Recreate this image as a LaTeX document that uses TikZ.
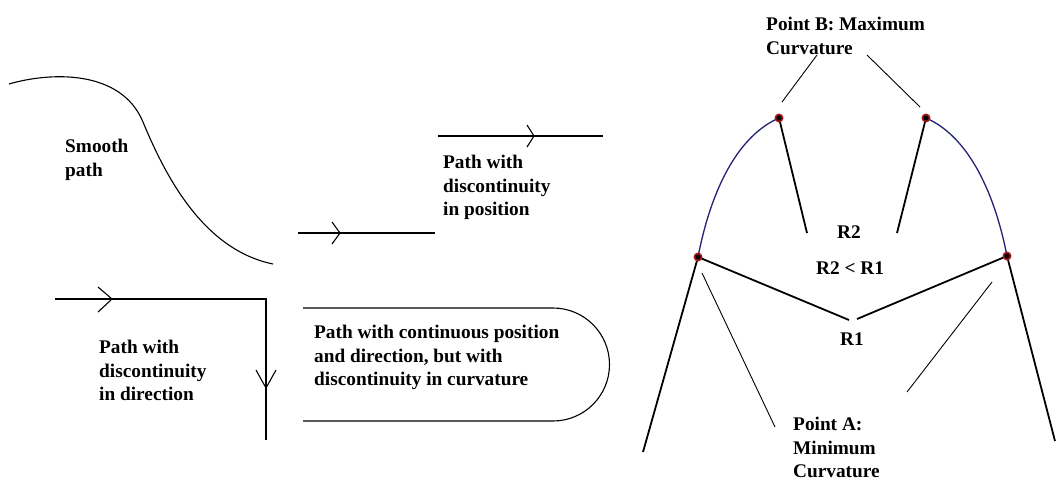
\documentclass[tikz,border=0pt]{standalone}
\usepackage{fontspec}
\setmainfont{Liberation Serif}
\usetikzlibrary{positioning}

\definecolor{arcblue}{RGB}{35,35,115}
\definecolor{dotred}{RGB}{165,25,25}

\begin{document}
\begin{tikzpicture}[
    x=1pt, y=-1pt,
    lbl/.style={anchor=north west, inner sep=0pt, align=left, font=\fontsize{19.3}{23.5}\selectfont\bfseries},
    mid/.style={inner sep=0pt, font=\fontsize{19.3}{23.5}\selectfont\bfseries},
    pathline/.style={line width=1.1pt},
    radline/.style={line width=1.8pt},
    leader/.style={line width=0.9pt},
    curve/.style={line width=1.3pt, arcblue}
]
\fill[white] (0,0) rectangle (1057,480);
\useasboundingbox (0,0) rectangle (1057,480);

% 光滑路径
\draw[pathline] (9,84) .. controls (50,72) and (121,69) .. (143,122)
                       .. controls (167,180) and (205,250) .. (273,264);
\node[lbl] (smooth) at (65,139) {Smooth\\path};

% 位置不连续
\draw[pathline] (298,233) -- (435,233);
\draw[pathline] (332,222) -- (340,233) -- (332,244);
\draw[pathline] (438,136) -- (603,136);
\draw[pathline] (527,125) -- (534,136) -- (527,147);
\node[lbl] (posdisc) at (443,155) {Path with\\discontinuity\\in position};

% 方向不连续
\draw[pathline] (55,299) -- (266,299) -- (266,440);
\draw[pathline] (98,287) -- (112,299) -- (98,312);
\draw[pathline] (256,370) -- (266,388) -- (276,370);
\node[lbl] (dirdisc) at (99,340) {Path with\\discontinuity\\in direction};

% 曲率不连续
\draw[pathline] (303,308) -- (553,308) arc[start angle=-90, end angle=90, radius=56.5] -- (303,421);
\node[lbl] (curvdisc) at (314,325) {Path with continuous position\\and direction, but with\\discontinuity in curvature};

% 右侧：曲率半径
\coordinate (Bl) at (779,118);
\coordinate (Br) at (926,118);
\coordinate (Al) at (698,257);
\coordinate (Ar) at (1007,256);

\draw[curve] (Al) .. controls (712,185) and (740,135) .. (Bl);
\draw[curve] (Br) .. controls (965,135) and (993,185) .. (Ar);
\draw[radline] (Al) -- (643,452);
\draw[radline] (Ar) -- (1055,441);

\draw[radline] (Bl) -- (807,233);
\draw[radline] (Br) -- (897,233);
\draw[radline] (Al) -- (849,320);
\draw[radline] (Ar) -- (857,319);

\foreach \p in {Bl,Br,Al,Ar} {
  \fill[dotred] (\p) circle[radius=4.5];
  \fill[black] (\p) circle[radius=2.6];
}

\node[lbl] (ptB) at (766,17) {Point B: Maximum\\Curvature};
\node[lbl] (ptA) at (793,417) {Point A:\\Minimum\\Curvature};
\node[mid] (rtwo) at (849,232) {R2};
\node[mid] (rcmp) at (850,268) {R2 < R1};
\node[mid] (rone) at (852,339) {R1};

% 引线
\draw[leader] (817,55) -- (782,102);
\draw[leader] (867,55) -- (920,107);
\draw[leader] (702,273) -- (775,427);
\draw[leader] (992,282) -- (907,392);

\end{tikzpicture}
\end{document}
